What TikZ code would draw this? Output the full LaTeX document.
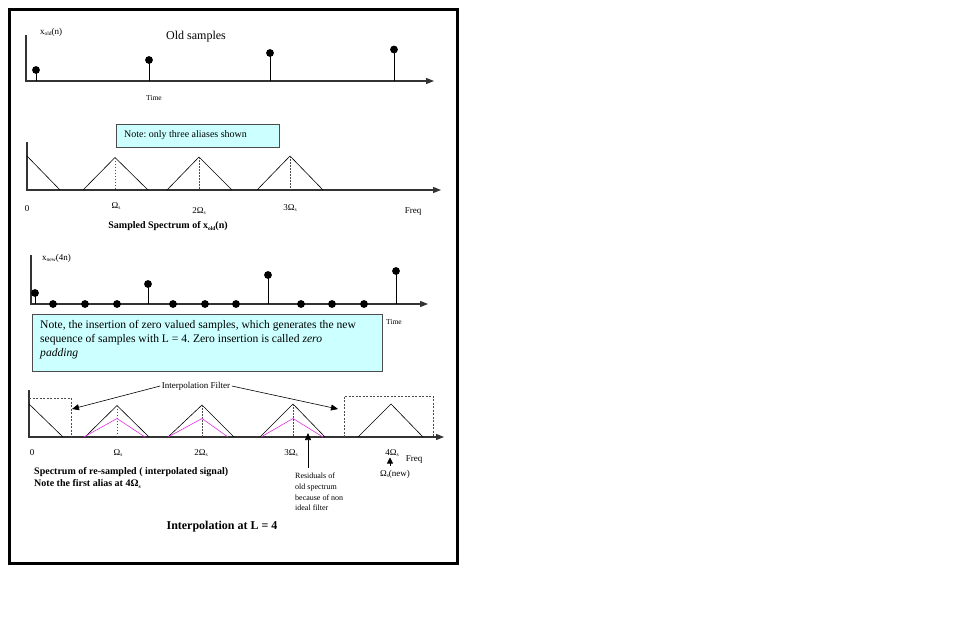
\documentclass[tikz,border=0pt]{standalone}
\usepackage{fontspec}
\setmainfont{Liberation Serif}
\usetikzlibrary{arrows.meta}
\frenchspacing
\newcommand\mysub[1]{\raisebox{-0.35ex}{\fontsize{5.5}{6}\selectfont #1}}
\newcommand\fs[1]{\fontsize{#1}{#1}\selectfont}
\definecolor{notecyan}{HTML}{CCFFFF}
\definecolor{resmag}{HTML}{E030E0}
\begin{document}
\begin{tikzpicture}[x=1pt,y=-1pt,
  axisline/.style={line width=1.1pt,draw=black!80,-{Triangle[length=8pt,width=6pt]}},
  plainline/.style={line width=0.6pt},
  stem/.style={line width=0.7pt},
  dot/.style={circle,fill=black,inner sep=0pt,minimum size=7.8pt},
  dashv/.style={dash pattern=on 1.5pt off 1.5pt,line width=0.5pt,draw=black!70},
  dashbox/.style={dash pattern=on 2pt off 1.5pt,line width=0.5pt,draw=black!70},
  notebox/.style={draw=black!70,fill=notecyan,line width=0.6pt,inner sep=0pt},
  txt/.style={inner sep=0pt,yshift=-1pt},
  lbl/.style={txt,font=\fs{9}},
  tiny/.style={txt,font=\fs{7.5}},
  magline/.style={draw=resmag,line width=0.6pt},
  pointer/.style={line width=0.6pt,-{Triangle[length=7pt,width=6pt]}}
]
\fill[white] (0,0) rectangle (957,616);
\useasboundingbox (0,0) rectangle (957,616);
\draw[line width=3pt] (9.5,9) rectangle (457,563);

% ---------- Panel 1 ----------
\coordinate (t1) at (26,35);
\coordinate (o1) at (26,81);
\coordinate (e1) at (434,81);
\draw[axisline] (t1) -- (o1) -- (e1);
\foreach \i/\x/\y in {a/36/70,b/149/60,c/270/53,d/394/49.5}{
  \node[dot] (p1\i) at (\x,\y) {};
  \coordinate (q1\i) at (\x,81);
  \draw[stem] (q1\i) -- (p1\i.center);
}
\node[lbl,anchor=west] (xold) at (40,31) {x\mysub{old}(n)};
\node[txt,font=\fs{12}] (oldtitle) at (196,36) {Old samples};
\node[tiny] (time1) at (154,97) {Time};

% ---------- Panel 2 ----------
\node[notebox,minimum width=163pt,minimum height=23pt,anchor=north west] (note1) at (116,124) {};
\node[txt,font=\fs{10},anchor=west] (note1t) at (124,134.5) {Note: only three aliases shown};
\coordinate (t2) at (27,142);
\coordinate (o2) at (27,190);
\coordinate (e2) at (441,190);
\draw[axisline] (t2) -- (o2) -- (e2);
\coordinate (s2a) at (27,156);
\coordinate (s2b) at (60,190);
\draw[plainline] (s2a) -- (s2b);
\foreach \i/\l/\p/\r/\h in {a/83/115/148/157.5,b/167/199/232/157,c/257/290/323/156}{
  \coordinate (l2\i) at (\l,190);
  \coordinate (k2\i) at (\p,\h);
  \coordinate (r2\i) at (\r,190);
  \coordinate (m2\i) at (\p,190);
  \draw[plainline] (l2\i) -- (k2\i) -- (r2\i);
  \draw[dashv] (k2\i) -- (m2\i);
}
\node[lbl] (z2) at (27,208) {0};
\node[lbl] (w2a) at (116,205) {Ω\mysub{s}};
\node[lbl] (w2b) at (199,210) {2Ω\mysub{s}};
\node[lbl] (w2c) at (290,207) {3Ω\mysub{s}};
\node[lbl] (f2) at (413,210.5) {Freq};
\node[txt,font=\fs{10}\bfseries] (cap2) at (168,225.5) {Sampled Spectrum of x\mysub{old}(n)};

% ---------- Panel 3 ----------
\coordinate (t3) at (31,255);
\coordinate (o3) at (31,304);
\coordinate (e3) at (428,304);
\draw[axisline] (t3) -- (o3) -- (e3);
\node[lbl,anchor=west] (xnew) at (42,257) {x\mysub{new}(4n)};
\foreach \i/\x/\y in {a/35/293,b/148/284,c/268/275,d/396/271}{
  \node[dot] (p3\i) at (\x,\y) {};
  \coordinate (q3\i) at (\x,304);
  \draw[stem] (q3\i) -- (p3\i.center);
}
\foreach \i/\x in {a/53,b/85,c/117,d/173,e/205,f/236,g/301,h/332,i/364}{
  \node[dot] (z3\i) at (\x,304) {};
}
\node[notebox,minimum width=350pt,minimum height=57pt,anchor=north west] (note2) at (32,314) {};
\node[inner sep=0pt,font=\fontsize{11.6}{14}\selectfont,anchor=north west,align=left] (note2t) at (40,320)
  {Note, the insertion of zero valued samples, which generates the new\\
   sequence of samples with L = 4. Zero insertion is called \textit{zero}\\
   \textit{padding}};
\node[tiny] (time3) at (394,321) {Time};

% ---------- Panel 4 ----------
\coordinate (t4) at (29,390);
\coordinate (o4) at (29,437);
\coordinate (e4) at (444,437);
\draw[axisline] (t4) -- (o4) -- (e4);
% dashed filter boxes
\coordinate (fl1) at (29,398);
\coordinate (fl2) at (71,398);
\coordinate (fl3) at (71,437);
\draw[dashbox] (fl1) -- (fl2) -- (fl3);
\coordinate (fr1) at (344,437);
\coordinate (fr2) at (344,396);
\coordinate (fr3) at (433,396);
\coordinate (fr4) at (433,437);
\draw[dashbox] (fr1) -- (fr2) -- (fr3) -- (fr4);
\coordinate (s4a) at (29,404);
\coordinate (s4b) at (63,437);
\draw[plainline] (s4a) -- (s4b);
\foreach \i/\l/\p/\r/\h in {a/85/117/149/405.5,b/168/202/234/405,c/260/293/325/404}{
  \coordinate (l4\i) at (\l,437);
  \coordinate (k4\i) at (\p,\h);
  \coordinate (r4\i) at (\r,437);
  \coordinate (m4\i) at (\p,437);
  \draw[plainline] (l4\i) -- (k4\i) -- (r4\i);
  \draw[dashv] (k4\i) -- (m4\i);
}
\coordinate (l4d) at (358,437);
\coordinate (k4d) at (391,404);
\coordinate (r4d) at (423,437);
\draw[plainline] (l4d) -- (k4d) -- (r4d);
% residual (magenta) spectra
\foreach \i/\l/\p/\r in {a/84/117/145,b/168/202/228,c/261/293/323}{
  \coordinate (ml\i) at (\l,437);
  \coordinate (mk\i) at (\p,418.5);
  \coordinate (mr\i) at (\r,437);
  \draw[magline] (ml\i) -- (mk\i) -- (mr\i);
}
% interpolation filter label and arrows
\node[inner sep=1.5pt,font=\fs{9}] (ifilt) at (196,386) {Interpolation Filter};
\coordinate (ifa) at (72,409);
\coordinate (ifb) at (338,409);
\draw[pointer] (ifilt.west) -- (ifa);
\draw[pointer] (ifilt.east) -- (ifb);
% frequency labels
\node[lbl] (z4) at (32,452) {0};
\node[lbl] (w4a) at (118,452) {Ω\mysub{s}};
\node[lbl] (w4b) at (201,452) {2Ω\mysub{s}};
\node[lbl] (w4c) at (291,452) {3Ω\mysub{s}};
\node[lbl] (w4d) at (392,452) {4Ω\mysub{s}};
\node[lbl] (f4) at (414,459) {Freq};
% residuals pointer
\coordinate (res0) at (308,468);
\coordinate (res1) at (308,433);
\draw[pointer] (res0) -- (res1);
\node[inner sep=0pt,font=\fontsize{8}{10.7}\selectfont,anchor=north west,align=left] (restext) at (295,473)
  {Residuals of\\old spectrum\\because of non\\ideal filter};
% new sampling frequency pointer
\coordinate (nw0) at (390,466);
\coordinate (nw1) at (390,457.5);
\draw[line width=0.6pt,-{Triangle[length=6pt,width=6pt]}] (nw0) -- (nw1);
\node[lbl] (wnew) at (395,473) {Ω\mysub{s}(new)};
% captions
\node[txt,font=\fs{10}\bfseries,anchor=west] (cap4a) at (34,471) {Spectrum of re-sampled ( interpolated signal)};
\node[txt,font=\fs{10}\bfseries,anchor=west] (cap4b) at (34,483) {Note the first alias at 4Ω\mysub{s}};
\node[txt,font=\fs{12}\bfseries] (title) at (222,526) {Interpolation at L = 4};
\end{tikzpicture}
\end{document}
